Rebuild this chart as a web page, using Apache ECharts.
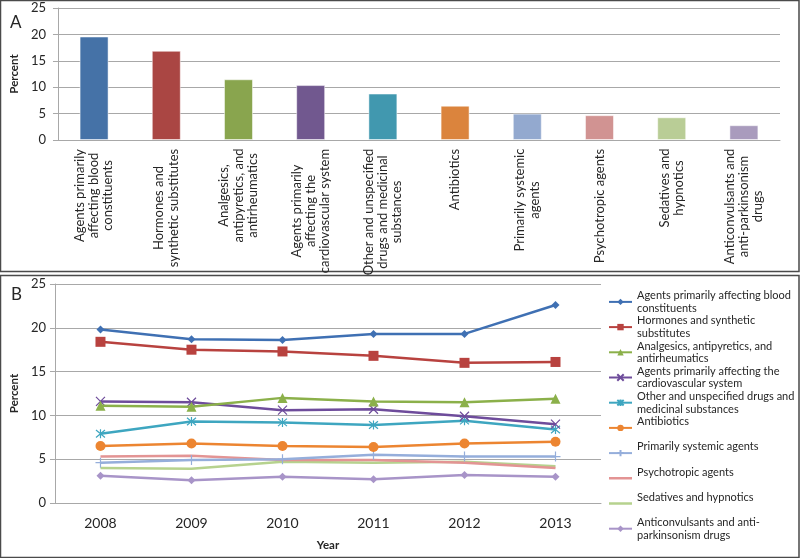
<!DOCTYPE html>
<html><head><meta charset="utf-8">
<script src="https://cdn.jsdelivr.net/npm/echarts@6/dist/echarts.min.js"></script>
<style>html,body{margin:0;padding:0;background:#fff}#c{width:800px;height:558px}</style>
</head><body><div id="c"></div>
<script>
// ---------- Panel A data ----------
const categoriesA = [
  'Agents primarily\naffecting blood\nconstituents',
  'Hormones and\nsynthetic substitutes',
  'Analgesics,\nantipyretics, and\nantirheumatics',
  'Agents primarily\naffecting the\ncardiovascular system',
  'Other and unspecified\ndrugs and medicinal\nsubstances',
  'Antibiotics',
  'Primarily systemic\nagents',
  'Psychotropic agents',
  'Sedatives and\nhypnotics',
  'Anticonvulsants and\nanti-parkinsonism\ndrugs'
];
const valuesA = [19.6, 16.9, 11.5, 10.4, 8.8, 6.5, 5.0, 4.7, 4.3, 2.8];

// ---------- Panel B data ----------
const years = ['2008', '2009', '2010', '2011', '2012', '2013'];
const seriesNames = [
  'Agents primarily affecting blood constituents',
  'Hormones and synthetic substitutes',
  'Analgesics, antipyretics, and antirheumatics',
  'Agents primarily affecting the cardiovascular system',
  'Other and unspecified drugs and medicinal substances',
  'Antibiotics',
  'Primarily systemic agents',
  'Psychotropic agents',
  'Sedatives and hypnotics',
  'Anticonvulsants and anti-parkinsonism drugs'
];
const legendLabels = [
  'Agents primarily affecting blood\nconstituents',
  'Hormones and synthetic\nsubstitutes',
  'Analgesics, antipyretics, and\nantirheumatics',
  'Agents primarily affecting the\ncardiovascular system',
  'Other and unspecified drugs and\nmedicinal substances',
  'Antibiotics\n ',
  'Primarily systemic agents\n ',
  'Psychotropic agents\n ',
  'Sedatives and hypnotics\n ',
  'Anticonvulsants and anti-\nparkinsonism drugs'
];
const blood          = [19.8, 18.7, 18.6, 19.3, 19.3, 22.6];
const hormones       = [18.4, 17.5, 17.3, 16.8, 16.0, 16.1];
const analgesics     = [11.1, 11.0, 12.0, 11.6, 11.5, 11.9];
const cardio         = [11.6, 11.5, 10.6, 10.7, 9.9, 9.0];
const otherDrugs     = [7.9, 9.3, 9.2, 8.9, 9.4, 8.4];
const antibiotics    = [6.5, 6.8, 6.5, 6.4, 6.8, 7.0];
const systemic       = [4.6, 4.9, 5.0, 5.5, 5.3, 5.3];
const psychotropic   = [5.3, 5.4, 4.9, 4.9, 4.6, 4.0];
const sedatives      = [4.0, 3.9, 4.7, 4.6, 4.7, 4.2];
const anticonvulsants= [3.1, 2.6, 3.0, 2.7, 3.2, 3.0];
const seriesValues = [blood, hormones, analgesics, cardio, otherDrugs, antibiotics, systemic, psychotropic, sedatives, anticonvulsants];

// ---------- styles ----------
const FONT = 'Lato, "Liberation Sans", sans-serif';
const TXT = '#262626';
const GRID = '#a8a8a8';
const barColors = ['#4572a7', '#aa4643', '#89a54e', '#71588f', '#4198af', '#db843d', '#93a9cf', '#d19392', '#b9cd96', '#a99bbd'];
const lineColors = ['#3f70b3', '#b8423f', '#8bb04a', '#6e4c9b', '#3ea6c0', '#ec8531', '#95aedb', '#e39494', '#b6d28e', '#a894c8'];
const X_PATH = 'path://M0,0L10,10M10,0L0,10';
const STAR_PATH = 'path://M0,0L10,10M10,0L0,10M5,-1L5,11';
const PLUS_PATH = 'path://M5,0L5,10M0,5L10,5';
const LINE_ICON = 'path://M0,0L0.01,0M0,2.75L23,2.75L23,5.25L0,5.25ZM0,8L0.01,8';
const symbols = ['diamond', 'rect', 'triangle', X_PATH, STAR_PATH, 'circle', PLUS_PATH, 'none', 'none', 'diamond'];
const symbolSizes = [8, 10, 10, 9, 9, 10, 10, 0, 0, 8];

// rich styles for centered multi-line rotated category labels
const LBL_FS = 13, LBL_LH = 14.2;
const ctx = document.createElement('canvas').getContext('2d');
ctx.font = LBL_FS + 'px ' + FONT;
const rich = {};
categoriesA.forEach((c, i) => {
  const w = Math.max.apply(null, c.split('\n').map(l => ctx.measureText(l).width));
  rich['c' + i] = { width: Math.ceil(w) + 1, align: 'center', fontSize: LBL_FS, lineHeight: LBL_LH, fontFamily: FONT, color: TXT };
});

const chart = echarts.init(document.getElementById('c'), null, { renderer: 'canvas' });

const lineSeries = seriesNames.map((n, i) => {
  const stroke = symbols[i].indexOf('path://') === 0;
  return {
    name: n, type: 'line', xAxisIndex: 1, yAxisIndex: 1,
    data: seriesValues[i],
    symbol: symbols[i], symbolSize: symbolSizes[i], showSymbol: symbols[i] !== 'none',
    lineStyle: { width: 2.5, color: lineColors[i] },
    itemStyle: stroke ? { color: lineColors[i], borderColor: lineColors[i], borderWidth: 1.2 } : { color: lineColors[i] },
    emphasis: { disabled: true },
    z: 10 - i
  };
});

chart.setOption({
  animation: false,
  textStyle: { fontFamily: FONT, color: TXT },
  graphic: [
    { type: 'rect', shape: { x: 0.5, y: 0.5, width: 798.5, height: 271 }, style: { fill: 'none', stroke: '#4a4a4a', lineWidth: 1.5 }, silent: true },
    { type: 'rect', shape: { x: 0.5, y: 275.5, width: 798.5, height: 282 }, style: { fill: 'none', stroke: '#4a4a4a', lineWidth: 1.5 }, silent: true },
    { type: 'text', left: 10, top: 14, style: { text: 'A', font: '17px ' + FONT, fill: TXT } },
    { type: 'text', left: 11, top: 286, style: { text: 'B', font: '17px ' + FONT, fill: TXT } }
  ],
  grid: [
    { left: 57, right: 20, top: 8, bottom: 418 },
    { left: 52, right: 199, top: 284, bottom: 55 }
  ],
  xAxis: [
    {
      type: 'category', gridIndex: 0, data: categoriesA,
      axisLine: { lineStyle: { color: GRID, width: 1 } },
      axisTick: { length: 5, lineStyle: { color: GRID } },
      axisLabel: {
        interval: 0, rotate: 90, margin: 8, color: TXT,
        formatter: (v, idx) => v.split('\n').map(l => '{c' + idx + '|' + l + '}').join('\n'),
        rich: rich
      }
    },
    {
      type: 'category', gridIndex: 1, data: years,
      name: 'Year', nameLocation: 'middle', nameGap: 36,
      nameTextStyle: { fontWeight: 'bold', fontSize: 11.5, color: TXT, fontFamily: FONT },
      axisLine: { lineStyle: { color: GRID, width: 1 } },
      axisTick: { length: 5, lineStyle: { color: GRID } },
      axisLabel: { fontSize: 14, margin: 13, color: TXT }
    }
  ],
  yAxis: [
    {
      type: 'value', gridIndex: 0, min: 0, max: 25, interval: 5,
      name: 'Percent', nameLocation: 'middle', nameGap: 32,
      nameTextStyle: { fontWeight: 'bold', fontSize: 11.5, color: TXT, fontFamily: FONT },
      axisLine: { show: true, lineStyle: { color: GRID } },
      axisTick: { show: true, length: 5, lineStyle: { color: GRID } },
      splitLine: { lineStyle: { color: GRID, width: 1.2 } },
      axisLabel: { fontSize: 13, margin: 12, color: TXT }
    },
    {
      type: 'value', gridIndex: 1, min: 0, max: 25, interval: 5,
      name: 'Percent', nameLocation: 'middle', nameGap: 32,
      nameTextStyle: { fontWeight: 'bold', fontSize: 11.5, color: TXT, fontFamily: FONT },
      axisLine: { show: true, lineStyle: { color: GRID } },
      axisTick: { show: true, length: 5, lineStyle: { color: GRID } },
      splitLine: { lineStyle: { color: GRID, width: 1.2 } },
      axisLabel: { fontSize: 13, margin: 9, color: TXT }
    }
  ],
  legend: {
    orient: 'vertical', left: 608, top: 283, padding: 0,
    itemWidth: 23, itemHeight: 8, itemGap: -12.6,
    data: seriesNames.map((n, i) => symbols[i] === 'none' ? { name: n, icon: LINE_ICON } : n),
    formatter: name => legendLabels[seriesNames.indexOf(name)],
    textStyle: { fontSize: 11, lineHeight: 12.6, padding: [12.6, 0, 0, 0], color: TXT, fontFamily: FONT },
    selectedMode: false
  },
  series: [
    {
      type: 'bar', xAxisIndex: 0, yAxisIndex: 0, barWidth: 29,
      data: valuesA.map((v, i) => ({ value: v, itemStyle: { color: barColors[i] } })),
      itemStyle: { borderColor: 'rgba(255,255,255,0.5)', borderWidth: 1 }
    }
  ].concat(lineSeries)
});
</script>
</body></html>
